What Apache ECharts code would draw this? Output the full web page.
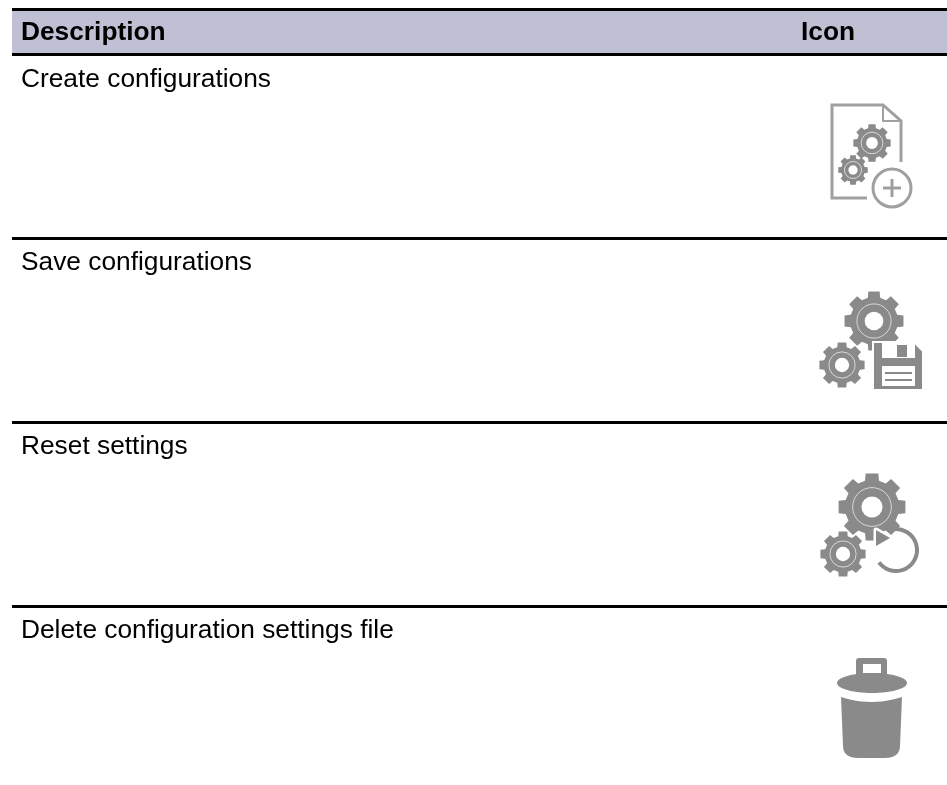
<!DOCTYPE html>
<html>
<head>
<meta charset="utf-8">
<title>Configuration icons</title>
<script src="https://cdn.jsdelivr.net/npm/echarts@6/dist/echarts.min.js"></script>
<style>
html, body { margin: 0; background: #fff; }
#chart { width: 947px; height: 785px; }
</style>
</head>
<body>
<div id="chart"></div>
<script>
// table text
const columns = ['Description', 'Icon'];
const descriptions = [
	'Create configurations',
	'Save configurations',
	'Reset settings',
	'Delete configuration settings file'
];

const GREY = '#8a8a8a';
const LIGHT = '#a0a0a0';
const RING = '#d8d8d8';
const FONT = '"Liberation Sans", Arial, sans-serif';
const FONT_SIZE = 26.3;

// gear outline as polygon points, then ring and hole on top
function gear(cx, cy, r, teeth) {
	const pts = [];
	const root = r * 0.8;
	const step = Math.PI * 2 / teeth;
	for (let i = 0; i < teeth; i++) {
		const a = i * step - Math.PI / 2;
		[[-0.33, root], [-0.24, r], [0.24, r], [0.33, root]].forEach(c => {
			const t = a + c[0] * step;
			pts.push([cx + Math.cos(t) * c[1], cy + Math.sin(t) * c[1]]);
		});
	}
	return [
		{ type: 'polygon', shape: { points: pts }, style: { fill: GREY } },
		{ type: 'circle', shape: { cx, cy, r: r * 0.57 }, style: { fill: 'none', stroke: RING, lineWidth: 1 } },
		{ type: 'circle', shape: { cx, cy, r: r * 0.31 }, style: { fill: '#fff' } }
	];
}

function line(x1, y1, x2, y2, color, width) {
	return { type: 'line', shape: { x1, y1, x2, y2 }, style: { stroke: color, lineWidth: width } };
}

function rect(x, y, width, height, fill, r) {
	return { type: 'rect', shape: { x, y, width, height, r: r || 0 }, style: { fill } };
}

// y is the baseline of the text
function label(text, x, y, bold) {
	return {
		type: 'text', x, y: y - 9,
		style: { text, fill: '#000', font: (bold ? 'bold ' : '') + FONT_SIZE + 'px ' + FONT, verticalAlign: 'middle' }
	};
}

// quadratic curve sampled to points, for the bin body
function quad(p0, p1, p2, n) {
	const pts = [];
	for (let i = 0; i <= n; i++) {
		const t = i / n;
		const u = 1 - t;
		pts.push([u * u * p0[0] + 2 * u * t * p1[0] + t * t * p2[0], u * u * p0[1] + 2 * u * t * p1[1] + t * t * p2[1]]);
	}
	return pts;
}

const elements = [];

// header band and rules
elements.push(rect(12, 11, 935, 42, '#c0c0d4'));
elements.push(rect(12, 8, 935, 3, '#000'));
elements.push(rect(12, 53, 935, 3, '#000'));
[237, 421, 605].forEach(y => elements.push(rect(12, y, 935, 3, '#000')));

// text
elements.push(label(columns[0], 21, 42, true));
elements.push(label(columns[1], 801, 42, true));
[88.5, 272, 456, 640].forEach((y, i) => elements.push(label(descriptions[i], 21, y, false)));

// icon 1: document with gears and plus
elements.push({
	type: 'polyline',
	shape: { points: [[867, 198], [832, 198], [832, 105], [883, 105], [901, 121], [901, 162]] },
	style: { fill: 'none', stroke: LIGHT, lineWidth: 3 }
});
elements.push({
	type: 'polyline',
	shape: { points: [[883, 105], [883, 121], [901, 121]] },
	style: { fill: 'none', stroke: LIGHT, lineWidth: 2 }
});
elements.push(...gear(872, 143, 19, 8));
elements.push(...gear(853, 170, 15, 8));
elements.push({ type: 'circle', shape: { cx: 892, cy: 188, r: 19 }, style: { fill: '#fff', stroke: LIGHT, lineWidth: 3 } });
elements.push(line(883, 188, 901, 188, LIGHT, 3));
elements.push(line(892, 179, 892, 197, LIGHT, 3));

// icon 2: gears and floppy disk
elements.push(...gear(874, 321, 30, 8));
elements.push(...gear(842, 365, 23, 8));
elements.push({
	type: 'polygon',
	shape: { points: [[873, 342], [914, 342], [923, 351], [923, 390], [873, 390]] },
	style: { fill: GREY, stroke: '#fff', lineWidth: 2 }
});
elements.push(rect(882, 342, 33, 16, '#fff'));
elements.push(rect(897, 345, 10, 12, GREY));
elements.push(rect(882, 366, 33, 20, '#fff'));
elements.push(rect(885, 372, 27, 2, GREY));
elements.push(rect(885, 379, 27, 2, GREY));

// icon 3: gears and undo arrow
elements.push(...gear(872, 507, 34, 8));
elements.push(...gear(843, 554, 23, 8));
elements.push({
	type: 'polygon',
	shape: { points: [[876, 530], [890, 538], [876, 546]] },
	style: { fill: GREY, stroke: '#fff', lineWidth: 5, lineJoin: 'round' }
});
elements.push({
	type: 'arc',
	shape: { cx: 896, cy: 550, r: 21, startAngle: -Math.PI * 0.58, endAngle: Math.PI * 0.8, clockwise: true },
	style: { fill: 'none', stroke: GREY, lineWidth: 4 }
});
elements.push({
	type: 'polygon',
	shape: { points: [[876, 530], [890, 538], [876, 546]] },
	style: { fill: GREY }
});

// icon 4: bin
elements.push(rect(856, 658, 31, 22, GREY, 3));
elements.push(rect(863, 664, 18, 9, '#fff'));
elements.push({ type: 'ellipse', shape: { cx: 872, cy: 683, rx: 35, ry: 10 }, style: { fill: GREY } });
elements.push({
	type: 'polygon',
	shape: {
		points: [].concat(
			quad([841, 697], [871, 707], [902, 697], 12),
			quad([900, 746], [900, 758], [884, 758], 6),
			quad([859, 758], [843, 758], [843, 746], 6)
		)
	},
	style: { fill: GREY }
});

const chart = echarts.init(document.getElementById('chart'), null, { renderer: 'canvas' });
chart.setOption({
	backgroundColor: '#fff',
	animation: false,
	graphic: { elements }
});
</script>
</body>
</html>
